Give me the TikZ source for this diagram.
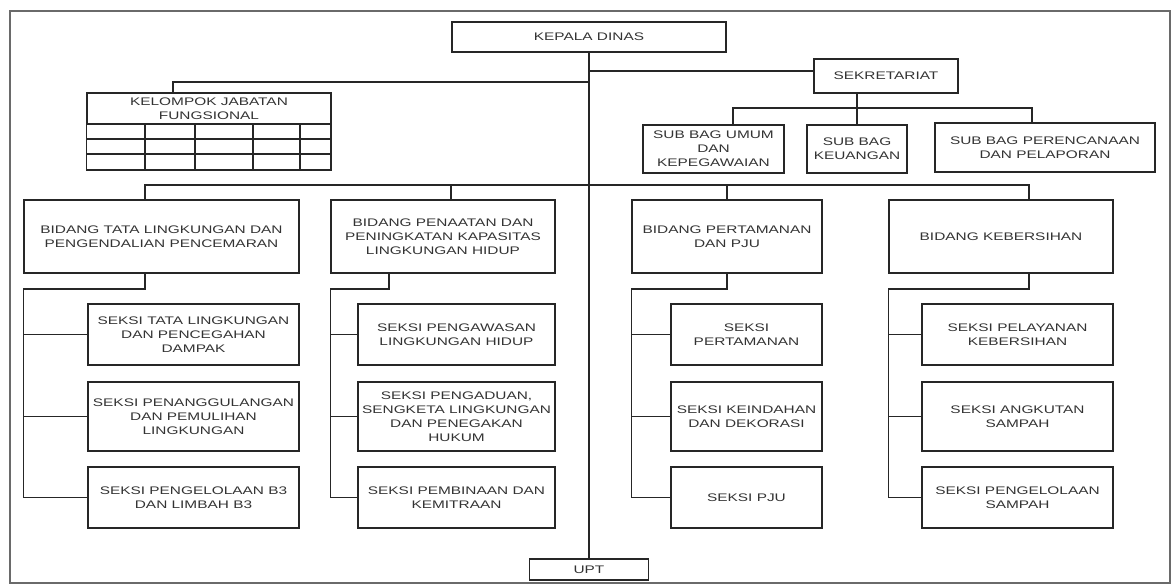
\documentclass[tikz,border=0pt]{standalone}
\usepackage{fontspec}
\setmainfont{Liberation Sans}[FakeStretch=1.4]
\definecolor{ink}{HTML}{262626}
\definecolor{txt}{HTML}{333333}
\definecolor{rim}{HTML}{6A6A6A}

\begin{document}
\begin{tikzpicture}[x=1pt, y=-1pt,
  unit/.style={draw=ink, line width=1.5pt, align=center, inner sep=0pt,
    text=txt, font=\fontsize{11}{14}\selectfont},
  link/.style={draw=ink, line width=1.5pt}]
  \useasboundingbox (0,0) rectangle (1174,588);
  \draw[rim, line width=1.8pt] (10,11) rectangle (1170,583);

  % Top: head, secretariat, functional group
  \node[unit, minimum width=274, minimum height=30] (kepala) at (589,37) {KEPALA DINAS};
  \node[unit, minimum width=144, minimum height=34] (sekre) at (886,76) {SEKRETARIAT};
  \node[unit, minimum width=244, minimum height=31] (kjf) at (209,108.5) {KELOMPOK JABATAN\\FUNGSIONAL};
  \node[unit, minimum width=119, minimum height=21] (upt) at (589,569.5) {UPT};

  % Grid under the functional group
  \draw[link] (kjf.south west) rectangle (331,170);
  \foreach \y in {139,154} \draw[link] (87,\y) -- (331,\y);
  \foreach \x in {145,195,253,300} \draw[link] (\x,124) -- (\x,170);

  % Sub sections of the secretariat
  \node[unit, minimum width=141, minimum height=48] (sub1) at (713.5,149) {SUB BAG UMUM\\DAN\\KEPEGAWAIAN};
  \node[unit, minimum width=100, minimum height=48] (sub2) at (857,149) {SUB BAG\\KEUANGAN};
  \node[unit, minimum width=220, minimum height=49] (sub3) at (1045,147.5) {SUB BAG PERENCANAAN\\DAN PELAPORAN};

  % Bidang row
  \node[unit, minimum width=275, minimum height=73] (bid1) at (161.5,236.5) {BIDANG TATA LINGKUNGAN DAN\\PENGENDALIAN PENCEMARAN};
  \node[unit, minimum width=224, minimum height=73] (bid2) at (443,236.5) {BIDANG PENAATAN DAN\\PENINGKATAN KAPASITAS\\LINGKUNGAN HIDUP};
  \node[unit, minimum width=190, minimum height=73] (bid3) at (727,236.5) {BIDANG PERTAMANAN\\DAN PJU};
  \node[unit, minimum width=224, minimum height=73] (bid4) at (1001,236.5) {BIDANG KEBERSIHAN};

  % Seksi, column 1
  \node[unit, minimum width=211, minimum height=61] (sek11) at (193.5,334.5) {SEKSI TATA LINGKUNGAN\\DAN PENCEGAHAN\\DAMPAK};
  \node[unit, minimum width=211, minimum height=69] (sek12) at (193.5,416.5) {SEKSI PENANGGULANGAN\\DAN PEMULIHAN\\LINGKUNGAN};
  \node[unit, minimum width=211, minimum height=61] (sek13) at (193.5,497.5) {SEKSI PENGELOLAAN B3\\DAN LIMBAH B3};

  % Seksi, column 2
  \node[unit, minimum width=197, minimum height=61] (sek21) at (456.5,334.5) {SEKSI PENGAWASAN\\LINGKUNGAN HIDUP};
  \node[unit, minimum width=197, minimum height=69] (sek22) at (456.5,416.5) {SEKSI PENGADUAN,\\SENGKETA LINGKUNGAN\\DAN PENEGAKAN\\HUKUM};
  \node[unit, minimum width=197, minimum height=61] (sek23) at (456.5,497.5) {SEKSI PEMBINAAN DAN\\KEMITRAAN};

  % Seksi, column 3
  \node[unit, minimum width=151, minimum height=61] (sek31) at (746.5,334.5) {SEKSI\\PERTAMANAN};
  \node[unit, minimum width=151, minimum height=69] (sek32) at (746.5,416.5) {SEKSI KEINDAHAN\\DAN DEKORASI};
  \node[unit, minimum width=151, minimum height=61] (sek33) at (746.5,497.5) {SEKSI PJU};

  % Seksi, column 4
  \node[unit, minimum width=191, minimum height=61] (sek41) at (1017.5,334.5) {SEKSI PELAYANAN\\KEBERSIHAN};
  \node[unit, minimum width=191, minimum height=69] (sek42) at (1017.5,416.5) {SEKSI ANGKUTAN\\SAMPAH};
  \node[unit, minimum width=191, minimum height=61] (sek43) at (1017.5,497.5) {SEKSI PENGELOLAAN\\SAMPAH};

  % Trunk and top branches
  \coordinate (jsek) at (589,71);
  \coordinate (jkjf) at (589,82);
  \coordinate (jsub) at (857,108);
  \coordinate (jbid) at (589,185);
  \draw[link] (kepala.south) -- (upt.north);
  \draw[link] (jsek) -- (jsek -| sekre.west);
  \draw[link] (jkjf) -| ([xshift=-36pt]kjf.north);
  \draw[link] (sekre.south -| sub2.north) -- (sub2.north);
  \draw[link] ([xshift=19.5pt]sub1.north) |- (jsub) -| ([xshift=-13pt]sub3.north);

  % Bus to the bidang row
  \coordinate (d2) at ([xshift=8pt]bid2.north);
  \draw[link] ([xshift=-16.5pt]bid1.north) |- (jbid) -| ([xshift=28pt]bid4.north);
  \draw[link] (d2) -- (d2 |- jbid);
  \draw[link] (bid3.north) -- (bid3.north |- jbid);

  % Bidang to seksi
  \draw[link] ([xshift=-16.5pt]bid1.south) -- ++(0,15) -| (bid1.west |- sek13.west) -- (sek13.west);
  \draw[link] (sek11.west) -- (sek11.west -| bid1.west);
  \draw[link] (sek12.west) -- (sek12.west -| bid1.west);

  \draw[link] ([xshift=-54pt]bid2.south) -- ++(0,15) -| (bid2.west |- sek23.west) -- (sek23.west);
  \draw[link] (sek21.west) -- (sek21.west -| bid2.west);
  \draw[link] (sek22.west) -- (sek22.west -| bid2.west);

  \draw[link] (bid3.south) -- ++(0,15) -| (bid3.west |- sek33.west) -- (sek33.west);
  \draw[link] (sek31.west) -- (sek31.west -| bid3.west);
  \draw[link] (sek32.west) -- (sek32.west -| bid3.west);

  \draw[link] ([xshift=28pt]bid4.south) -- ++(0,15) -| (bid4.west |- sek43.west) -- (sek43.west);
  \draw[link] (sek41.west) -- (sek41.west -| bid4.west);
  \draw[link] (sek42.west) -- (sek42.west -| bid4.west);
\end{tikzpicture}
\end{document}
